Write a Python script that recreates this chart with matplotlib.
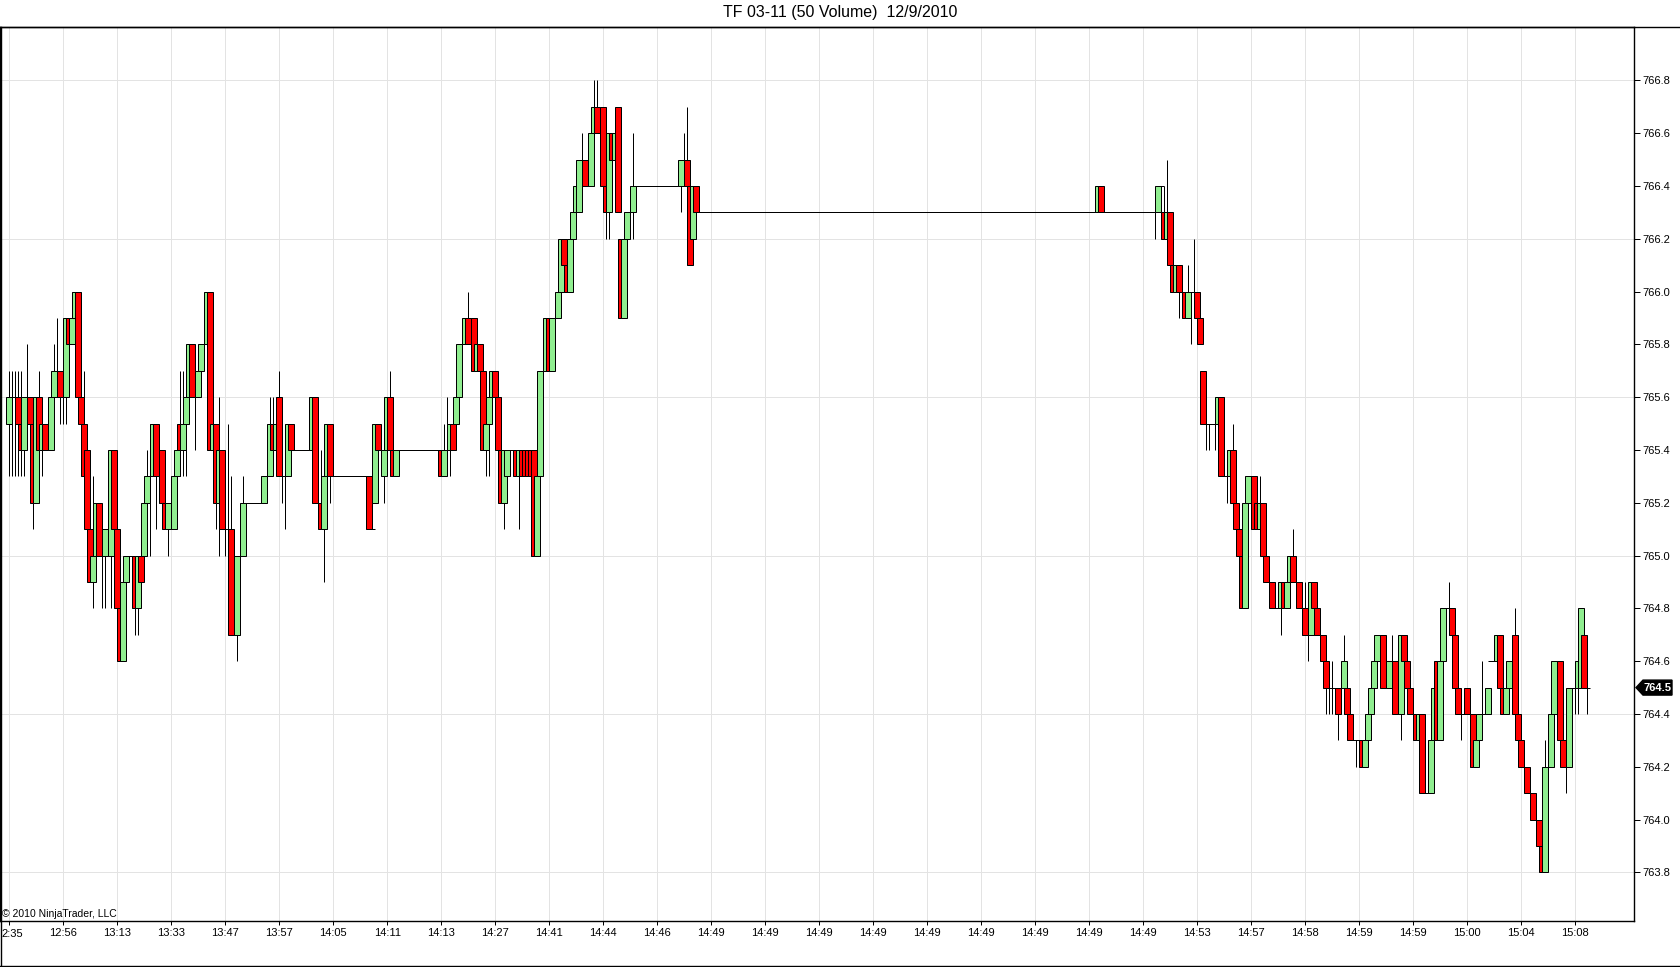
import matplotlib
matplotlib.use('Agg')
import matplotlib.pyplot as plt
from matplotlib.patches import Polygon
from matplotlib.lines import Line2D
import numpy as np

# 50-volume bars, one row = 18 bars (one grid interval)
opens = [
    765.5, 765.6, 765.6, 765.6, 765.5, 765.4, 765.6, 765.6, 765.5, 765.2, 765.6, 765.4, 765.5, 765.4, 765.4, 765.6, 765.7, 765.7,
    765.6, 765.6, 765.9, 765.8, 765.9, 766.0, 765.6, 765.5, 765.4, 765.1, 764.9, 765.0, 765.2, 765.0, 765.0, 765.1, 765.0, 765.4,
    765.1, 764.8, 764.6, 764.9, 765.0, 765.0, 765.0, 764.8, 765.0, 765.0, 765.2, 765.3, 765.3, 765.5, 765.3, 765.4, 765.2, 765.1,
    765.2, 765.1, 765.3, 765.5, 765.4, 765.5, 765.6, 765.8, 765.6, 765.6, 765.7, 765.8, 765.8, 766.0, 765.4, 765.5, 765.2, 765.4,
    765.1, 765.1, 765.1, 764.7, 764.7, 765.0, 765.0, 765.2, 765.2, 765.2, 765.2, 765.2, 765.2, 765.2, 765.3, 765.3, 765.5, 765.4,
    765.6, 765.3, 765.3, 765.3, 765.5, 765.4, 765.4, 765.4, 765.4, 765.4, 765.4, 765.4, 765.6, 765.2, 765.2, 765.1, 765.3, 765.5,
    765.3, 765.3, 765.3, 765.3, 765.3, 765.3, 765.3, 765.3, 765.3, 765.3, 765.3, 765.3, 765.3, 765.1, 765.2, 765.5, 765.4, 765.3,
    765.4, 765.6, 765.4, 765.3, 765.4, 765.4, 765.4, 765.4, 765.4, 765.4, 765.4, 765.4, 765.4, 765.4, 765.4, 765.4, 765.4, 765.4,
    765.4, 765.3, 765.4, 765.4, 765.5, 765.5, 765.6, 765.8, 765.8, 765.9, 765.8, 765.9, 765.7, 765.8, 765.7, 765.4, 765.5, 765.6,
    765.7, 765.6, 765.4, 765.2, 765.3, 765.4, 765.4, 765.4, 765.3, 765.4, 765.4, 765.4, 765.4, 765.4, 765.0, 765.3, 765.7, 765.7,
    765.9, 765.7, 765.9, 765.9, 766.0, 766.2, 766.1, 766.0, 766.2, 766.3, 766.3, 766.5, 766.5, 766.4, 766.4, 766.6, 766.7, 766.6,
    766.7, 766.4, 766.3, 766.6, 766.5, 766.7, 766.2, 765.9, 766.2, 766.3, 766.3, 766.4, 766.4, 766.4, 766.4, 766.4, 766.4, 766.4,
    766.4, 766.4, 766.4, 766.4, 766.4, 766.4, 766.4, 766.4, 766.4, 766.5, 766.5, 766.4, 766.2, 766.4, 766.3, 766.3, 766.3, 766.3,
    766.3, 766.3, 766.3, 766.3, 766.3, 766.3, 766.3, 766.3, 766.3, 766.3, 766.3, 766.3, 766.3, 766.3, 766.3, 766.3, 766.3, 766.3,
    766.3, 766.3, 766.3, 766.3, 766.3, 766.3, 766.3, 766.3, 766.3, 766.3, 766.3, 766.3, 766.3, 766.3, 766.3, 766.3, 766.3, 766.3,
    766.3, 766.3, 766.3, 766.3, 766.3, 766.3, 766.3, 766.3, 766.3, 766.3, 766.3, 766.3, 766.3, 766.3, 766.3, 766.3, 766.3, 766.3,
    766.3, 766.3, 766.3, 766.3, 766.3, 766.3, 766.3, 766.3, 766.3, 766.3, 766.3, 766.3, 766.3, 766.3, 766.3, 766.3, 766.3, 766.3,
    766.3, 766.3, 766.3, 766.3, 766.3, 766.3, 766.3, 766.3, 766.3, 766.3, 766.3, 766.3, 766.3, 766.3, 766.3, 766.3, 766.3, 766.3,
    766.3, 766.3, 766.3, 766.3, 766.3, 766.3, 766.3, 766.3, 766.3, 766.3, 766.3, 766.3, 766.3, 766.3, 766.3, 766.3, 766.3, 766.3,
    766.3, 766.3, 766.3, 766.3, 766.3, 766.3, 766.3, 766.3, 766.3, 766.3, 766.3, 766.3, 766.3, 766.3, 766.3, 766.3, 766.3, 766.3,
    766.3, 766.3, 766.3, 766.3, 766.4, 766.3, 766.3, 766.3, 766.3, 766.3, 766.3, 766.3, 766.3, 766.3, 766.3, 766.3, 766.3, 766.3,
    766.3, 766.3, 766.3, 766.3, 766.3, 766.3, 766.4, 766.3, 766.2, 766.3, 766.1, 766.0, 766.1, 766.0, 766.0, 765.9, 766.0, 766.0,
    766.0, 765.9, 765.7, 765.5, 765.5, 765.5, 765.5, 765.5, 765.6, 765.3, 765.3, 765.3, 765.4, 765.2, 765.1, 765.0, 764.8, 765.2,
    765.3, 765.3, 765.2, 765.1, 765.2, 765.0, 764.9, 764.9, 764.8, 764.8, 764.8, 764.9, 764.8, 764.9, 765.0, 764.9, 764.9, 764.8,
    764.8, 764.7, 764.7, 764.9, 764.8, 764.7, 764.7, 764.6, 764.5, 764.5, 764.5, 764.5, 764.5, 764.5, 764.5, 764.4, 764.3, 764.3,
    764.3, 764.3, 764.2, 764.3, 764.4, 764.5, 764.6, 764.7, 764.7, 764.5, 764.5, 764.6, 764.6, 764.4, 764.4, 764.7, 764.6, 764.5,
    764.4, 764.4, 764.3, 764.4, 764.1, 764.1, 764.1, 764.3, 764.6, 764.3, 764.6, 764.8, 764.8, 764.8, 764.7, 764.5, 764.4, 764.4,
    764.5, 764.4, 764.4, 764.2, 764.3, 764.4, 764.4, 764.4, 764.6, 764.6, 764.6, 764.7, 764.5, 764.4, 764.5, 764.6, 764.7, 764.4,
    764.3, 764.2, 764.2, 764.1, 764.1, 764.0, 764.0, 763.9, 763.8, 764.2, 764.2, 764.4, 764.6, 764.6, 764.3, 764.2, 764.2, 764.5,
    764.5, 764.5, 764.5, 764.7, 764.5,
]

closes = [
    765.6, 765.6, 765.6, 765.5, 765.4, 765.6, 765.6, 765.5, 765.2, 765.6, 765.4, 765.5, 765.4, 765.4, 765.6, 765.7, 765.7, 765.6,
    765.6, 765.9, 765.8, 765.9, 766.0, 765.6, 765.5, 765.3, 765.1, 764.9, 765.0, 765.2, 765.0, 765.0, 765.1, 765.1, 765.4, 765.1,
    764.8, 764.6, 764.9, 765.0, 765.0, 765.0, 764.8, 765.0, 764.9, 765.2, 765.3, 765.3, 765.5, 765.3, 765.3, 765.2, 765.1, 765.2,
    765.2, 765.3, 765.4, 765.4, 765.5, 765.6, 765.8, 765.6, 765.6, 765.7, 765.8, 765.8, 766.0, 765.4, 765.5, 765.2, 765.4, 765.1,
    765.1, 765.1, 764.7, 764.7, 765.0, 765.0, 765.2, 765.2, 765.2, 765.2, 765.2, 765.2, 765.2, 765.3, 765.3, 765.5, 765.4, 765.5,
    765.3, 765.3, 765.3, 765.5, 765.4, 765.4, 765.4, 765.4, 765.4, 765.4, 765.4, 765.6, 765.2, 765.2, 765.1, 765.3, 765.5, 765.3,
    765.3, 765.3, 765.3, 765.3, 765.3, 765.3, 765.3, 765.3, 765.3, 765.3, 765.3, 765.3, 765.1, 765.1, 765.5, 765.4, 765.4, 765.4,
    765.6, 765.4, 765.3, 765.4, 765.4, 765.4, 765.4, 765.4, 765.4, 765.4, 765.4, 765.4, 765.4, 765.4, 765.4, 765.4, 765.4, 765.4,
    765.3, 765.4, 765.4, 765.5, 765.4, 765.6, 765.8, 765.8, 765.9, 765.8, 765.8, 765.7, 765.8, 765.7, 765.4, 765.5, 765.6, 765.7,
    765.6, 765.4, 765.2, 765.4, 765.4, 765.4, 765.4, 765.3, 765.4, 765.3, 765.3, 765.3, 765.3, 765.0, 765.3, 765.7, 765.7, 765.9,
    765.7, 765.9, 765.9, 766.0, 766.2, 766.1, 766.0, 766.2, 766.3, 766.4, 766.5, 766.5, 766.4, 766.4, 766.6, 766.7, 766.6, 766.6,
    766.4, 766.3, 766.6, 766.5, 766.6, 766.3, 765.9, 766.2, 766.3, 766.3, 766.4, 766.4, 766.4, 766.4, 766.4, 766.4, 766.4, 766.4,
    766.4, 766.4, 766.4, 766.4, 766.4, 766.4, 766.4, 766.4, 766.5, 766.5, 766.4, 766.1, 766.4, 766.3, 766.3, 766.3, 766.3, 766.3,
    766.3, 766.3, 766.3, 766.3, 766.3, 766.3, 766.3, 766.3, 766.3, 766.3, 766.3, 766.3, 766.3, 766.3, 766.3, 766.3, 766.3, 766.3,
    766.3, 766.3, 766.3, 766.3, 766.3, 766.3, 766.3, 766.3, 766.3, 766.3, 766.3, 766.3, 766.3, 766.3, 766.3, 766.3, 766.3, 766.3,
    766.3, 766.3, 766.3, 766.3, 766.3, 766.3, 766.3, 766.3, 766.3, 766.3, 766.3, 766.3, 766.3, 766.3, 766.3, 766.3, 766.3, 766.3,
    766.3, 766.3, 766.3, 766.3, 766.3, 766.3, 766.3, 766.3, 766.3, 766.3, 766.3, 766.3, 766.3, 766.3, 766.3, 766.3, 766.3, 766.3,
    766.3, 766.3, 766.3, 766.3, 766.3, 766.3, 766.3, 766.3, 766.3, 766.3, 766.3, 766.3, 766.3, 766.3, 766.3, 766.3, 766.3, 766.3,
    766.3, 766.3, 766.3, 766.3, 766.3, 766.3, 766.3, 766.3, 766.3, 766.3, 766.3, 766.3, 766.3, 766.3, 766.3, 766.3, 766.3, 766.3,
    766.3, 766.3, 766.3, 766.3, 766.3, 766.3, 766.3, 766.3, 766.3, 766.3, 766.3, 766.3, 766.3, 766.3, 766.3, 766.3, 766.3, 766.3,
    766.3, 766.3, 766.3, 766.4, 766.3, 766.3, 766.3, 766.3, 766.3, 766.3, 766.3, 766.3, 766.3, 766.3, 766.3, 766.3, 766.3, 766.3,
    766.3, 766.3, 766.3, 766.3, 766.3, 766.4, 766.4, 766.2, 766.3, 766.1, 766.0, 766.1, 766.0, 766.0, 765.9, 766.0, 766.0, 766.0,
    765.9, 765.8, 765.5, 765.5, 765.5, 765.5, 765.5, 765.6, 765.3, 765.3, 765.3, 765.4, 765.2, 765.1, 765.0, 764.8, 765.2, 765.3,
    765.3, 765.1, 765.1, 765.2, 765.0, 764.9, 764.9, 764.8, 764.8, 764.8, 764.9, 764.8, 764.9, 765.0, 764.9, 764.9, 764.8, 764.8,
    764.7, 764.7, 764.9, 764.8, 764.7, 764.7, 764.6, 764.5, 764.5, 764.5, 764.5, 764.4, 764.5, 764.6, 764.4, 764.3, 764.3, 764.3,
    764.3, 764.2, 764.3, 764.4, 764.5, 764.6, 764.7, 764.7, 764.5, 764.5, 764.6, 764.6, 764.4, 764.4, 764.7, 764.6, 764.5, 764.4,
    764.4, 764.3, 764.4, 764.1, 764.1, 764.1, 764.3, 764.5, 764.3, 764.6, 764.8, 764.8, 764.8, 764.7, 764.5, 764.4, 764.4, 764.4,
    764.4, 764.4, 764.2, 764.3, 764.4, 764.4, 764.4, 764.5, 764.6, 764.6, 764.7, 764.5, 764.4, 764.5, 764.6, 764.6, 764.4, 764.3,
    764.2, 764.2, 764.1, 764.1, 764.0, 764.0, 763.9, 763.8, 764.2, 764.2, 764.4, 764.6, 764.6, 764.3, 764.2, 764.2, 764.5, 764.5,
    764.5, 764.6, 764.8, 764.5, 764.5,
]

highs = [
    765.7, 765.7, 765.7, 765.7, 765.7, 765.6, 765.8, 765.6, 765.5, 765.6, 765.7, 765.5, 765.5, 765.4, 765.6, 765.8, 765.9, 765.7,
    765.6, 765.9, 765.9, 766.0, 766.0, 766.0, 765.6, 765.7, 765.4, 765.1, 765.3, 765.2, 765.2, 765.0, 765.1, 765.1, 765.4, 765.4,
    765.1, 764.8, 764.9, 765.0, 765.0, 765.0, 765.0, 765.0, 765.0, 765.2, 765.4, 765.5, 765.5, 765.5, 765.3, 765.4, 765.2, 765.2,
    765.2, 765.3, 765.4, 765.7, 765.7, 765.6, 765.8, 765.8, 765.7, 765.7, 765.8, 765.8, 766.0, 766.0, 765.5, 765.5, 765.6, 765.4,
    765.1, 765.5, 765.3, 764.7, 765.0, 765.0, 765.3, 765.2, 765.2, 765.2, 765.2, 765.2, 765.2, 765.3, 765.3, 765.6, 765.6, 765.5,
    765.7, 765.3, 765.3, 765.5, 765.5, 765.4, 765.4, 765.4, 765.4, 765.4, 765.4, 765.6, 765.6, 765.2, 765.4, 765.3, 765.5, 765.5,
    765.3, 765.3, 765.3, 765.3, 765.3, 765.3, 765.3, 765.3, 765.3, 765.3, 765.3, 765.3, 765.3, 765.1, 765.5, 765.5, 765.4, 765.4,
    765.6, 765.7, 765.4, 765.4, 765.4, 765.4, 765.4, 765.4, 765.4, 765.4, 765.4, 765.4, 765.4, 765.4, 765.4, 765.4, 765.4, 765.4,
    765.4, 765.5, 765.6, 765.5, 765.5, 765.6, 765.8, 765.8, 765.9, 766.0, 765.8, 765.9, 765.8, 765.8, 765.7, 765.5, 765.6, 765.7,
    765.7, 765.6, 765.4, 765.4, 765.4, 765.4, 765.4, 765.4, 765.4, 765.4, 765.4, 765.4, 765.4, 765.4, 765.3, 765.7, 765.7, 765.9,
    765.9, 765.9, 765.9, 766.0, 766.2, 766.2, 766.1, 766.2, 766.3, 766.4, 766.5, 766.6, 766.5, 766.4, 766.6, 766.8, 766.8, 766.6,
    766.7, 766.4, 766.6, 766.6, 766.6, 766.7, 766.2, 766.2, 766.3, 766.3, 766.6, 766.4, 766.4, 766.4, 766.4, 766.4, 766.4, 766.4,
    766.4, 766.4, 766.4, 766.4, 766.4, 766.4, 766.4, 766.4, 766.5, 766.6, 766.7, 766.4, 766.4, 766.4, 766.3, 766.3, 766.3, 766.3,
    766.3, 766.3, 766.3, 766.3, 766.3, 766.3, 766.3, 766.3, 766.3, 766.3, 766.3, 766.3, 766.3, 766.3, 766.3, 766.3, 766.3, 766.3,
    766.3, 766.3, 766.3, 766.3, 766.3, 766.3, 766.3, 766.3, 766.3, 766.3, 766.3, 766.3, 766.3, 766.3, 766.3, 766.3, 766.3, 766.3,
    766.3, 766.3, 766.3, 766.3, 766.3, 766.3, 766.3, 766.3, 766.3, 766.3, 766.3, 766.3, 766.3, 766.3, 766.3, 766.3, 766.3, 766.3,
    766.3, 766.3, 766.3, 766.3, 766.3, 766.3, 766.3, 766.3, 766.3, 766.3, 766.3, 766.3, 766.3, 766.3, 766.3, 766.3, 766.3, 766.3,
    766.3, 766.3, 766.3, 766.3, 766.3, 766.3, 766.3, 766.3, 766.3, 766.3, 766.3, 766.3, 766.3, 766.3, 766.3, 766.3, 766.3, 766.3,
    766.3, 766.3, 766.3, 766.3, 766.3, 766.3, 766.3, 766.3, 766.3, 766.3, 766.3, 766.3, 766.3, 766.3, 766.3, 766.3, 766.3, 766.3,
    766.3, 766.3, 766.3, 766.3, 766.3, 766.3, 766.3, 766.3, 766.3, 766.3, 766.3, 766.3, 766.3, 766.3, 766.3, 766.3, 766.3, 766.3,
    766.3, 766.3, 766.3, 766.4, 766.4, 766.3, 766.3, 766.3, 766.3, 766.3, 766.3, 766.3, 766.3, 766.3, 766.3, 766.3, 766.3, 766.3,
    766.3, 766.3, 766.3, 766.3, 766.3, 766.4, 766.4, 766.4, 766.5, 766.3, 766.1, 766.1, 766.1, 766.0, 766.0, 766.1, 766.0, 766.2,
    766.0, 765.9, 765.7, 765.5, 765.5, 765.5, 765.5, 765.6, 765.6, 765.3, 765.3, 765.4, 765.5, 765.2, 765.1, 765.0, 765.2, 765.3,
    765.3, 765.3, 765.2, 765.3, 765.2, 765.0, 764.9, 764.9, 764.8, 764.8, 764.9, 764.9, 764.9, 765.0, 765.1, 764.9, 764.9, 764.9,
    764.9, 764.7, 764.9, 764.9, 764.8, 764.7, 764.7, 764.6, 764.5, 764.6, 764.5, 764.5, 764.5, 764.7, 764.5, 764.4, 764.3, 764.3,
    764.3, 764.3, 764.3, 764.4, 764.5, 764.6, 764.7, 764.7, 764.7, 764.5, 764.6, 764.7, 764.6, 764.4, 764.7, 764.7, 764.6, 764.5,
    764.4, 764.4, 764.4, 764.4, 764.1, 764.1, 764.3, 764.5, 764.6, 764.6, 764.8, 764.8, 764.9, 764.8, 764.7, 764.5, 764.4, 764.4,
    764.5, 764.4, 764.4, 764.3, 764.4, 764.6, 764.4, 764.5, 764.6, 764.6, 764.7, 764.7, 764.5, 764.5, 764.6, 764.6, 764.8, 764.4,
    764.3, 764.2, 764.2, 764.1, 764.1, 764.0, 764.0, 763.9, 764.3, 764.3, 764.4, 764.6, 764.6, 764.6, 764.3, 764.2, 764.5, 764.5,
    764.5, 764.6, 764.8, 764.7, 764.5,
]

lows = [
    765.3, 765.3, 765.3, 765.3, 765.3, 765.3, 765.6, 765.5, 765.1, 765.2, 765.3, 765.3, 765.4, 765.4, 765.4, 765.6, 765.7, 765.5,
    765.5, 765.5, 765.8, 765.8, 765.9, 765.6, 765.5, 765.3, 765.1, 764.9, 764.8, 765.0, 765.0, 764.8, 764.8, 765.1, 764.8, 765.1,
    764.8, 764.6, 764.6, 764.8, 765.0, 765.0, 764.7, 764.7, 764.9, 765.0, 765.2, 765.0, 765.3, 765.1, 765.3, 765.2, 765.1, 765.0,
    765.2, 765.1, 765.3, 765.3, 765.3, 765.3, 765.6, 765.6, 765.4, 765.6, 765.7, 765.8, 765.8, 765.4, 765.4, 765.1, 765.0, 765.1,
    765.0, 765.0, 764.7, 764.7, 764.6, 765.0, 765.0, 765.2, 765.2, 765.2, 765.2, 765.2, 765.2, 765.2, 765.3, 765.3, 765.4, 765.4,
    765.3, 765.2, 765.1, 765.3, 765.4, 765.4, 765.4, 765.4, 765.4, 765.4, 765.4, 765.4, 765.2, 765.2, 765.1, 764.9, 765.3, 765.2,
    765.3, 765.3, 765.3, 765.3, 765.3, 765.3, 765.3, 765.3, 765.3, 765.3, 765.3, 765.3, 765.1, 765.1, 765.2, 765.4, 765.4, 765.2,
    765.4, 765.4, 765.3, 765.3, 765.4, 765.4, 765.4, 765.4, 765.4, 765.4, 765.4, 765.4, 765.4, 765.4, 765.4, 765.4, 765.4, 765.4,
    765.3, 765.3, 765.4, 765.3, 765.4, 765.5, 765.6, 765.8, 765.8, 765.8, 765.8, 765.7, 765.7, 765.7, 765.4, 765.3, 765.3, 765.6,
    765.6, 765.4, 765.2, 765.1, 765.3, 765.4, 765.4, 765.3, 765.1, 765.3, 765.3, 765.3, 765.3, 765.0, 765.0, 765.3, 765.7, 765.7,
    765.7, 765.7, 765.9, 765.9, 766.0, 766.1, 766.0, 766.0, 766.2, 766.3, 766.3, 766.5, 766.4, 766.4, 766.4, 766.6, 766.6, 766.6,
    766.4, 766.2, 766.2, 766.5, 766.5, 766.3, 765.9, 765.9, 766.2, 766.3, 766.2, 766.4, 766.4, 766.4, 766.4, 766.4, 766.4, 766.4,
    766.4, 766.4, 766.4, 766.4, 766.4, 766.4, 766.4, 766.4, 766.3, 766.5, 766.4, 766.1, 766.2, 766.3, 766.3, 766.3, 766.3, 766.3,
    766.3, 766.3, 766.3, 766.3, 766.3, 766.3, 766.3, 766.3, 766.3, 766.3, 766.3, 766.3, 766.3, 766.3, 766.3, 766.3, 766.3, 766.3,
    766.3, 766.3, 766.3, 766.3, 766.3, 766.3, 766.3, 766.3, 766.3, 766.3, 766.3, 766.3, 766.3, 766.3, 766.3, 766.3, 766.3, 766.3,
    766.3, 766.3, 766.3, 766.3, 766.3, 766.3, 766.3, 766.3, 766.3, 766.3, 766.3, 766.3, 766.3, 766.3, 766.3, 766.3, 766.3, 766.3,
    766.3, 766.3, 766.3, 766.3, 766.3, 766.3, 766.3, 766.3, 766.3, 766.3, 766.3, 766.3, 766.3, 766.3, 766.3, 766.3, 766.3, 766.3,
    766.3, 766.3, 766.3, 766.3, 766.3, 766.3, 766.3, 766.3, 766.3, 766.3, 766.3, 766.3, 766.3, 766.3, 766.3, 766.3, 766.3, 766.3,
    766.3, 766.3, 766.3, 766.3, 766.3, 766.3, 766.3, 766.3, 766.3, 766.3, 766.3, 766.3, 766.3, 766.3, 766.3, 766.3, 766.3, 766.3,
    766.3, 766.3, 766.3, 766.3, 766.3, 766.3, 766.3, 766.3, 766.3, 766.3, 766.3, 766.3, 766.3, 766.3, 766.3, 766.3, 766.3, 766.3,
    766.3, 766.3, 766.3, 766.3, 766.3, 766.3, 766.3, 766.3, 766.3, 766.3, 766.3, 766.3, 766.3, 766.3, 766.3, 766.3, 766.3, 766.3,
    766.3, 766.3, 766.3, 766.3, 766.2, 766.3, 766.4, 766.2, 766.2, 766.1, 766.0, 766.0, 765.9, 766.0, 765.9, 765.9, 765.8, 766.0,
    765.9, 765.8, 765.5, 765.4, 765.4, 765.5, 765.4, 765.5, 765.3, 765.3, 765.2, 765.3, 765.2, 765.1, 765.0, 764.8, 764.8, 765.2,
    765.3, 765.1, 765.1, 765.1, 765.0, 764.9, 764.9, 764.8, 764.8, 764.8, 764.7, 764.8, 764.8, 764.9, 764.9, 764.9, 764.8, 764.8,
    764.7, 764.6, 764.7, 764.8, 764.7, 764.7, 764.6, 764.4, 764.4, 764.4, 764.5, 764.3, 764.5, 764.5, 764.4, 764.3, 764.3, 764.2,
    764.3, 764.2, 764.2, 764.3, 764.4, 764.5, 764.6, 764.7, 764.5, 764.5, 764.5, 764.6, 764.4, 764.4, 764.3, 764.6, 764.5, 764.4,
    764.4, 764.3, 764.3, 764.1, 764.1, 764.1, 764.1, 764.3, 764.3, 764.3, 764.6, 764.8, 764.8, 764.7, 764.5, 764.4, 764.3, 764.4,
    764.4, 764.4, 764.2, 764.2, 764.3, 764.4, 764.4, 764.4, 764.6, 764.6, 764.6, 764.5, 764.4, 764.4, 764.5, 764.6, 764.4, 764.3,
    764.2, 764.2, 764.1, 764.1, 764.0, 764.0, 763.9, 763.8, 763.8, 764.2, 764.2, 764.4, 764.6, 764.3, 764.2, 764.1, 764.2, 764.5,
    764.4, 764.4, 764.5, 764.5, 764.4,
]

# first label is clipped at the left edge in the original ("12:35" shows as "2:35")
time_labels = ['2:35', '12:56', '13:13', '13:33', '13:47', '13:57', '14:05', '14:11',
               '14:13', '14:27', '14:41', '14:44', '14:46', '14:49', '14:49', '14:49',
               '14:49', '14:49', '14:49', '14:49', '14:49', '14:49', '14:53', '14:57',
               '14:58', '14:59', '14:59', '15:00', '15:04', '15:08']
bars_per_label = 18
price_ticks = [763.8, 764.0, 764.2, 764.4, 764.6, 764.8, 765.0, 765.2,
               765.4, 765.6, 765.8, 766.0, 766.2, 766.4, 766.6, 766.8]
grid_prices = [763.8, 764.4, 765.0, 765.6, 766.2, 766.8]
last_price = 764.5

assert len(opens) == len(closes) == len(highs) == len(lows), \
    (len(opens), len(closes), len(highs), len(lows))

plt.rcParams['font.family'] = ['Liberation Sans', 'DejaVu Sans']

W, H = 1680, 967
fig = plt.figure(figsize=(W / 100, H / 100), dpi=100)
ax_l, ax_r, ax_t, ax_b = 0, 1634, 27, 921
ax = fig.add_axes([ax_l / W, 1 - ax_b / H, (ax_r - ax_l) / W, (ax_b - ax_t) / H])

o = np.array(opens)
c = np.array(closes)
hi = np.array(highs)
lo = np.array(lows)
x = np.arange(len(o))
colors = np.where(c > o, '#90EE90', '#FF0000')

px = 0.72  # one pixel in points
ax.vlines(x, lo, hi, color='black', linewidth=px, zorder=2)
ax.bar(x, c - o, bottom=o, width=2, color=colors, edgecolor='black',
       linewidth=px, zorder=3)

ax.set_xlim(-3.1, 541.57)
ax.set_ylim(763.616, 767.002)

label_pos = np.arange(len(time_labels)) * bars_per_label
for xp in label_pos:
    ax.axvline(xp, color='#E3E3E3', linewidth=px, zorder=0)
for yp in grid_prices:
    ax.axhline(yp, color='#E3E3E3', linewidth=px, zorder=0)

ax.set_xticks(label_pos)
# first label is drawn separately, flush with the left edge
ax.set_xticklabels([''] + time_labels[1:], fontsize=8)
fig.text(1 / W, 1 - 929 / H, time_labels[0], ha='left', va='top', fontsize=8)
ax.yaxis.tick_right()
ax.set_yticks(price_ticks)
ax.set_yticklabels([f'{p:.1f}' for p in price_ticks], fontsize=8)
ax.tick_params(axis='x', direction='out', length=3, width=px, pad=2)
ax.tick_params(axis='y', direction='out', length=4, width=px, pad=2)

for s in ax.spines.values():
    s.set_linewidth(1.0)

# frame lines: under the title, figure left and bottom edges
fig.add_artist(Line2D([0, 1], [1 - ax_t / H] * 2, transform=fig.transFigure,
                      color='black', linewidth=1.0))
fig.add_artist(Line2D([0.5 / W, 0.5 / W], [0, 1 - ax_t / H], transform=fig.transFigure,
                      color='black', linewidth=1.0))
fig.add_artist(Line2D([0, 1], [0.8 / H, 0.8 / H], transform=fig.transFigure,
                      color='black', linewidth=1.0))

fig.text(840 / W, 1 - 13 / H, 'TF 03-11 (50 Volume)  12/9/2010',
         ha='center', va='center', fontsize=11.5)
fig.text(2 / W, 1 - 917 / H, '\u00a9 2010 NinjaTrader, LLC',
         ha='left', va='baseline', fontsize=7.5)

# last price marker
y_px = 80.4 + (766.8 - last_price) * 264
pts = [(1636, y_px), (1643, y_px - 7.5), (1672, y_px - 7.5),
       (1672, y_px + 7.5), (1643, y_px + 7.5)]
pts = [(px_ / W, 1 - py_ / H) for px_, py_ in pts]
fig.add_artist(Polygon(pts, closed=True, transform=fig.transFigure,
                       facecolor='black', edgecolor='black'))
fig.text(1657 / W, 1 - y_px / H, f'{last_price:.1f}', color='white',
         ha='center', va='center', fontsize=8, fontweight='bold')

fig.savefig('out.png', dpi=100)
